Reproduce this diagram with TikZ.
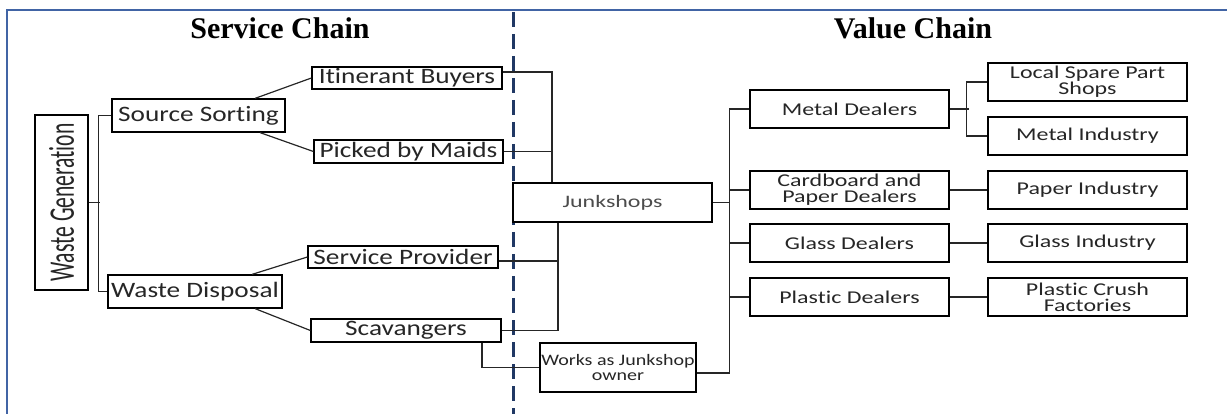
\documentclass[tikz,border=0pt]{standalone}
\usepackage{fontspec}
\setmainfont{Liberation Serif}
\newfontfamily\boxfont[FakeStretch=1.24,Ligatures=NoCommon]{Carlito}
\newfontfamily\dealerfont[FakeStretch=1.33,Ligatures=NoCommon]{Carlito}
\newfontfamily\shopfont[FakeStretch=1.37,Ligatures=NoCommon]{Carlito}
\newfontfamily\ownerfont[FakeStretch=1.25,Ligatures=NoCommon]{Carlito}
\newfontfamily\narrowfont[FakeStretch=0.6,Ligatures=NoCommon]{Carlito}
\definecolor{framecol}{RGB}{65,100,165}
\definecolor{divcol}{RGB}{32,56,100}
\begin{document}
\begin{tikzpicture}[x=1pt,y=-1pt,
  title/.style={anchor=base, font=\bfseries\fontsize{30}{32}\selectfont},
  lbox/.style={draw=black, line width=1.2pt, fill=white, inner sep=0pt,
    minimum width=190pt, minimum height=22pt, text=black!85,
    font=\boxfont\fontsize{22}{24}\selectfont},
  rbox/.style={draw=black, line width=2.4pt, fill=white, inner sep=0pt,
    minimum width=199pt, minimum height=38pt, align=center, text=black!85,
    font=\dealerfont\fontsize{18}{16}\selectfont},
  link/.style={line width=1.2pt, draw=black!85}]
\useasboundingbox (0,0) rectangle (1227,414);

% outer frame and divider between the two chains
\coordinate (fbl) at (7,414);
\coordinate (ftl) at (7,10);
\coordinate (ftr) at (1227,10);
\draw[framecol, line width=2.5pt] (fbl) -- (ftl) -- (ftr);
\coordinate (dtop) at (513,12);
\coordinate (dbot) at (513,414);
\draw[divcol, line width=3pt, dash pattern=on 15pt off 7pt] (dtop) -- (dbot);

% headings
\node[title] (svc) at (280,39) {Service Chain};
\node[title] (val) at (913,39) {Value Chain};

% service chain
\node[draw=black, line width=1.2pt, fill=white, inner sep=0pt, rotate=90,
  minimum width=175pt, minimum height=53pt, text=black!85,
  font=\narrowfont\fontsize{36}{38}\selectfont] (wg) at (61.5,202.5) {Waste Generation};
\node[lbox, minimum width=173pt, minimum height=33pt] (ss) at (198.5,115.5) {Source Sorting};
\node[lbox, minimum width=174pt, minimum height=33pt] (wd) at (195,291.5) {Waste Disposal};
\node[lbox] (ib) at (407,78) {Itinerant Buyers};
\node[lbox, minimum width=189pt, minimum height=23pt] (pm) at (408.5,151.5) {Picked by Maids};
\node[lbox] (sp) at (403,257) {Service Provider};
\node[lbox, minimum height=23pt] (sc) at (406,330.5) {Scavangers};

% junkshops
\node[rbox, minimum height=39pt, text=black!70,
  font=\shopfont\fontsize{17.5}{18}\selectfont] (js) at (612.5,202.5) {Junkshops};
\node[rbox, line width=2pt, minimum width=156pt, minimum height=49pt,
  font=\ownerfont\fontsize{16}{15}\selectfont] (wo) at (618,367.5) {Works as Junkshop\\owner};

% value chain
\node[rbox] (md) at (849.5,109) {Metal Dealers};
\node[rbox] (cd) at (849.5,190) {Cardboard and\\Paper Dealers};
\node[rbox] (gd) at (849.5,243) {Glass Dealers};
\node[rbox] (pd) at (849.5,297) {Plastic Dealers};
\node[rbox] (ls) at (1087.5,82) {Local Spare Part\\Shops};
\node[rbox] (mi) at (1087.5,136) {Metal Industry};
\node[rbox] (pi) at (1087.5,190) {Paper Industry};
\node[rbox] (gi) at (1087.5,243) {Glass Industry};
\node[rbox] (pc) at (1087.5,297) {Plastic Crush\\Factories};

% connectors: generation to sorting and disposal
\draw[link] (wg.south) -- ++(11,0);
\draw[link] (ss.west) -- ++(-13,0) |- (wd.west);
\draw[link] ([xshift=56.5pt]ss.north) -- (ib.west);
\draw[link] ([xshift=61.5pt]ss.south) -- (pm.west);
\draw[link] ([xshift=57pt]wd.north) -- (sp.west);
\draw[link] ([xshift=60pt]wd.south) -- (sc.west);

% connectors into the junkshops
\coordinate (jt) at ([xshift=-60.5pt]js.north);
\coordinate (jb) at ([xshift=-54.5pt]js.south);
\draw[link] ([yshift=6pt]ib.east) -| (jt);
\draw[link] (pm.east) -- (pm.east -| jt);
\draw[link] (jb) |- (sc.east);
\draw[link] ([yshift=-4pt]sp.east) -- ([yshift=-4pt]sp.east -| jb);
\draw[link] ([xshift=76pt]sc.south) |- (wo.west);

% connectors to the dealers
\coordinate (rs) at ([xshift=-19pt]md.west);
\draw[link] ([yshift=-5.5pt]wo.east) -| (rs) -- (md.west);
\draw[link] (js.east) -- (js.east -| rs);
\draw[link] (cd.west) -- (cd.west -| rs);
\draw[link] (gd.west) -- (gd.west -| rs);
\draw[link] (pd.west) -- (pd.west -| rs);

% connectors to the industries
\draw[link] (md.east) -- ++(19,0);
\draw[link] (ls.west) -- ++(-20,0) |- (mi.west);
\draw[link] (cd.east) -- (pi.west);
\draw[link] (gd.east) -- (gi.west);
\draw[link] (pd.east) -- (pc.west);
\end{tikzpicture}
\end{document}
